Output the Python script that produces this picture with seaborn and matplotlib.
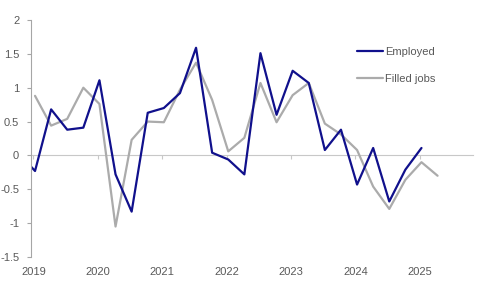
import matplotlib
matplotlib.use("Agg")
import matplotlib.pyplot as plt
import seaborn as sns
import pandas as pd
import numpy as np
from matplotlib.lines import Line2D

# quarterly data, 2018Q4 .. 2025Q2
quarters = ["2018Q4",
            "2019Q1", "2019Q2", "2019Q3", "2019Q4",
            "2020Q1", "2020Q2", "2020Q3", "2020Q4",
            "2021Q1", "2021Q2", "2021Q3", "2021Q4",
            "2022Q1", "2022Q2", "2022Q3", "2022Q4",
            "2023Q1", "2023Q2", "2023Q3", "2023Q4",
            "2024Q1", "2024Q2", "2024Q3", "2024Q4",
            "2025Q1", "2025Q2"]
employed = [0.03,
            -0.23, 0.68, 0.38, 0.41,
            1.11, -0.28, -0.83, 0.63,
            0.70, 0.92, 1.59, 0.04,
            -0.06, -0.28, 1.51, 0.60,
            1.25, 1.07, 0.08, 0.38,
            -0.43, 0.11, -0.68, -0.21,
            0.11, np.nan]
filled_jobs = [np.nan,
               0.88, 0.44, 0.54, 1.00,
               0.76, -1.05, 0.23, 0.50,
               0.49, 0.97, 1.37, 0.82,
               0.06, 0.26, 1.07, 0.49,
               0.89, 1.07, 0.47, 0.31,
               0.08, -0.46, -0.79, -0.36,
               -0.10, -0.30]
year_labels = ["2019", "2020", "2021", "2022", "2023", "2024", "2025"]
y_ticks = [2, 1.5, 1, 0.5, 0, -0.5, -1, -1.5]

pos = np.arange(len(quarters)) - 1  # 0 = 2019Q1
df = pd.DataFrame({"pos": pos, "Employed": employed, "Filled jobs": filled_jobs})
df = df.melt(id_vars="pos", var_name="series", value_name="value").dropna()

sns.set_style("white")
plt.rcParams["font.family"] = ["Liberation Sans Narrow", "Liberation Sans", "DejaVu Sans"]
plt.rcParams["axes.unicode_minus"] = False
grey_txt = "#595959"
fs = 8

fig = plt.figure(figsize=(4.8, 2.88), dpi=100)
ax = fig.add_axes([31 / 480, 1 - 257 / 288, (473 - 31) / 480, (257 - 20) / 288])

sns.lineplot(data=df, x="pos", y="value", hue="series",
             palette={"Employed": "#10108C", "Filled jobs": "#ABABAB"},
             hue_order=["Filled jobs", "Employed"], linewidth=1.6, ax=ax,
             legend=False)

ax.set_xlim(-0.25, 27.2)
ax.set_ylim(-1.5, 2)
ax.set_xlabel("")
ax.set_ylabel("")

ax.set_yticks(y_ticks)
ax.set_yticklabels([f"{t:g}" for t in y_ticks])
year_pos = [4 * k - 0.1 for k in range(len(year_labels))]
ax.set_xticks(year_pos)
ax.set_xticklabels(year_labels)

for s in ["top", "right", "bottom"]:
    ax.spines[s].set_visible(False)
ax.spines["left"].set_color("#A6A6A6")
ax.spines["left"].set_linewidth(0.8)
ax.tick_params(axis="y", length=3, width=0.8, color="#A6A6A6", pad=5.5,
               labelsize=fs, labelcolor=grey_txt, left=True)
ax.tick_params(axis="x", length=0, pad=7, labelsize=fs, labelcolor=grey_txt)

# zero line with small year ticks
sec = ax.secondary_xaxis(1.5 / 3.5)
sec.set_xticks(year_pos)
sec.tick_params(axis="x", length=3, width=0.8, color="#C8C8C8", labelbottom=False)
sec.spines["bottom"].set_color("#C8C8C8")
sec.spines["bottom"].set_linewidth(0.8)
sec.set_zorder(0)

handles = [Line2D([], [], color="#10108C", lw=1.6), Line2D([], [], color="#ABABAB", lw=1.6)]
leg = fig.legend(handles, ["Employed", "Filled jobs"], loc="upper left",
                 bbox_to_anchor=(357 / 480, 1 - 47 / 288), frameon=False,
                 fontsize=fs, handlelength=2.3, handletextpad=0.25,
                 labelspacing=1.5, borderpad=0, borderaxespad=0)
for t in leg.get_texts():
    t.set_color(grey_txt)

fig.savefig("out.png", dpi=100)
